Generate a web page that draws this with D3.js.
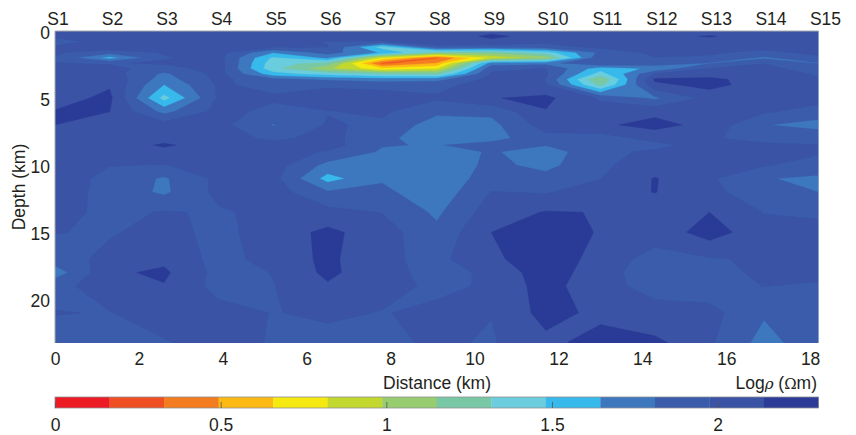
<!DOCTYPE html>
<html><head><meta charset="utf-8">
<script src="https://cdn.jsdelivr.net/npm/d3@7"></script>
<style>
html,body{margin:0;padding:0;background:#fff}
svg{display:block}
text{font-family:"Liberation Sans",Arial,sans-serif;fill:#231f20}
</style></head><body>
<svg id="c" width="856" height="435"></svg>
<script>
const stationLabels = ["S1","S2","S3","S4","S5","S6","S7","S8","S9","S10","S11","S12","S13","S14","S15"];
const stationSpacingKm = 1.3;
const depthsKm = [0,.4,.8,1.2,1.6,2,2.4,2.8,3.2,3.6,4,5,6,7,8,8.5,9,10,11,12,13.5,15,17,18,19,21,23.2];
const xTicks = [0,2,4,6,8,10,12,14,16,18];
const depthTicks = [0,5,10,15,20];
const barTicks = [0,0.5,1,1.5,2];
const levelStep = 0.1646;
const levelColors = ["#ed1c24","#f04e23","#f47c20","#fdb913","#f5e911","#c3d82f","#97cd6e","#79c8a5","#6bcddd","#37b9ec","#3d78be","#3a5cab","#3a53a4","#2c3b97"];
// log10 resistivity: one row per depth, one value per station
const logRho = [
[2.03,2.05,2.05,2.05,2.05,2.05,2.05,2.05,2.1,2.05,2.05,2.05,2.03,2.03,2.03],
[2.02,2.06,2.05,2.05,2.07,2.13,2.1,2.04,2.17,2.08,2.1,2.06,2.16,2.02,2.0],
[1.83,2.12,2.04,2.05,2.0,1.97,1.95,2.13,2.1,2.02,2.03,2.0,2.02,1.99,2.03],
[2.02,2.1,2.03,2.05,1.99,1.98,1.4,1.9,1.85,1.9,2.02,2.04,2.0,2.03,2.03],
[2.0,1.88,1.99,2.04,1.66,1.88,1.62,1.25,1.2,1.4,1.85,2.02,2.0,1.93,2.02],
[1.96,1.58,1.96,2.03,1.45,1.68,.8,.31,.85,1.05,1.95,1.97,1.95,1.78,1.95],
[1.98,1.96,2.0,2.06,1.38,1.25,.28,.5,1.72,1.75,1.97,1.9,1.8,1.97,1.8],
[2.03,2.02,1.9,2.05,1.36,1.02,.7,.8,1.93,1.98,1.55,1.68,1.98,2.02,1.9],
[2.05,2.05,1.78,2.03,1.55,1.4,1.3,1.25,2.0,2.0,1.4,1.98,2.08,2.1,1.95],
[2.07,2.1,1.73,2.02,1.85,1.78,1.72,1.75,2.03,1.97,1.12,2.17,2.17,2.08,2.0],
[2.1,2.12,1.645,2.0,1.92,1.95,1.93,1.92,2.05,2.0,1.25,2.1,2.2,2.05,2.02],
[2.07,2.18,1.42,2.0,2.0,2.05,2.04,2.0,2.13,2.18,1.95,1.78,2.03,2.05,2.05],
[2.15,2.142,1.76,2.03,1.93,1.97,2.0,1.85,1.85,2.13,2.06,2.09,2.05,2.0,1.9],
[2.14,2.03,2.05,2.03,1.8,1.99,1.95,1.72,1.76,2.05,2.11,2.2,2.08,1.82,1.75],
[2.06,2.05,2.08,2.05,1.94,2.03,1.85,1.72,1.75,1.92,1.9,2.03,1.99,1.93,1.93],
[2.05,2.06,2.16,2.07,2.05,2.05,1.82,1.8,1.88,1.82,1.94,1.93,2.04,2.0,1.98],
[2.05,2.05,2.1,2.05,2.05,1.96,1.79,1.72,1.83,1.72,1.94,2.0,2.05,2.05,2.0],
[2.05,1.98,1.97,2.03,2.05,1.76,1.77,1.68,1.855,1.76,1.95,2.05,2.05,1.99,1.9],
[2.06,1.93,1.79,2.02,2.03,1.58,1.79,1.7,1.885,1.87,1.97,2.15,2.0,1.82,1.78],
[2.06,1.92,1.78,2.02,2.05,1.83,1.85,1.7,1.98,1.96,2.07,2.145,2.02,1.88,1.81],
[2.05,1.92,1.99,1.955,2.02,2.03,1.97,1.78,2.06,2.15,2.135,2.05,2.14,1.97,1.94],
[1.98,1.96,2.03,1.93,2.05,2.18,2.05,1.85,2.14,2.35,2.11,2.03,2.22,2.03,2.04],
[1.9,2.02,2.1,1.92,2.03,2.18,2.0,1.94,2.08,2.31,2.04,1.93,1.96,2.0,2.03],
[1.72,2.11,2.17,1.92,1.98,2.18,2.02,1.93,2.0,2.25,2.03,1.9,1.88,2.03,2.03],
[1.93,2.05,2.13,1.92,1.97,2.12,2.02,1.95,1.99,2.22,2.0,1.95,1.88,1.98,1.95],
[1.98,1.97,2.07,2.03,1.97,2.0,1.97,2.0,1.98,2.2,2.1,2.0,2.03,1.83,1.97],
[1.93,1.93,1.96,2.05,1.96,1.93,1.94,2.0,1.96,2.1,2.2,2.18,2.0,1.75,1.92]
];

const svg = d3.select("#c");
const fs = 17.5;
const sans = '"Liberation Sans",Arial,sans-serif';
const L = 55, R = 818.5, T = 31, B = 343;
const x = d3.scaleLinear().domain([0, stationSpacingKm*(stationLabels.length-1)]).range([L,R]);
const y = d3.scaleLinear().domain([0,23.25]).range([T,B]);

const nx = stationLabels.length, ny = depthsKm.length;
const rowToDepth = d3.scaleLinear().domain(d3.range(ny)).range(depthsKm);
const project = d3.geoTransform({point(px,py){
  this.stream.point(x((px-0.5)*stationSpacingKm), y(rowToDepth(py-0.5)));
}});
const path = d3.geoPath(project);
const thresholds = levelColors.map((_,i)=>i*levelStep);
const contours = d3.contours().size([nx,ny]).thresholds(thresholds).smooth(true)(logRho.flat());

const blur = svg.append("filter").attr("id","soft").attr("x",0).attr("y",0).attr("width",1).attr("height",1);
blur.append("feGaussianBlur").attr("stdDeviation",0.5);
svg.append("clipPath").attr("id","plot").append("rect")
  .attr("x",L).attr("y",T).attr("width",R-L).attr("height",B-T);
svg.append("g").attr("clip-path","url(#plot)").append("g").attr("filter","url(#soft)")
  .selectAll("path").data(contours).join("path")
  .attr("d",path)
  .attr("fill",(d,i)=>levelColors[i])
  .attr("stroke",(d,i)=>levelColors[i])
  .attr("stroke-width",0.3);

// plot frame
svg.append("path").attr("d",`M${L},${B}V${T}H${R}`).attr("fill","none").attr("stroke","#a7a9ac").attr("stroke-width",1);
svg.append("path").attr("d",`M${R},${T}V${B}`).attr("fill","none").attr("stroke","#8ea0d0").attr("stroke-width",1);

// x axis
const ax = svg.append("g").attr("transform",`translate(0,${B})`)
  .call(d3.axisBottom(x).tickValues(xTicks).tickSize(0).tickPadding(10).tickFormat(String));
ax.select(".domain").remove();
ax.selectAll("text").attr("font-size",fs).style("font-family",sans).attr("fill","#231f20");

// depth axis
const ay = svg.append("g").attr("transform",`translate(${L},1.5)`)
  .call(d3.axisLeft(y).tickValues(depthTicks).tickSize(0).tickPadding(5).tickFormat(String));
ay.select(".domain").remove();
ay.selectAll("text").attr("font-size",fs).style("font-family",sans).attr("fill","#231f20");

// stations
svg.append("g").selectAll("text").data(stationLabels).join("text")
  .attr("x",(d,i)=>x(i*stationSpacingKm)+ (i>=9?7:3))
  .attr("y",24.5).attr("text-anchor","middle").attr("font-size",fs).text(d=>d);

svg.append("text").attr("x",437).attr("y",389).attr("text-anchor","middle").attr("font-size",fs).text("Distance (km)");
svg.append("text").attr("transform","translate(25,187) rotate(-90)").attr("text-anchor","middle").attr("font-size",fs).text("Depth (km)");
const lg = svg.append("text").attr("x",817).attr("y",389).attr("text-anchor","end").attr("font-size",fs);
lg.append("tspan").text("Log");
lg.append("tspan").attr("font-style","italic").style("font-family",'"DejaVu Serif",serif').attr("font-size",15).text("ρ");
lg.append("tspan").text(" (");
lg.append("tspan").style("font-family",'"DejaVu Serif",serif').attr("font-size",15).text("Ω");
lg.append("tspan").text("m)");

// colour bar
const barTop = 397, barBottom = 408;
const cx = d3.scaleLinear().domain([0,levelStep*levelColors.length]).range([L,R]);
svg.append("g").selectAll("rect").data(levelColors).join("rect")
  .attr("x",(d,i)=>cx(i*levelStep)).attr("y",barTop)
  .attr("width",(d,i)=>cx((i+1)*levelStep)-cx(i*levelStep)+0.3)
  .attr("height",barBottom-barTop).attr("fill",d=>d);
svg.append("rect").attr("x",L).attr("y",barTop).attr("width",R-L).attr("height",barBottom-barTop)
  .attr("fill","none").attr("stroke","#8f9094").attr("stroke-width",0.8);
const ac = svg.append("g").attr("transform",`translate(0,${barBottom})`)
  .call(d3.axisBottom(cx).tickValues(barTicks).tickSize(-6).tickPadding(11).tickFormat(String));
ac.select(".domain").remove();
ac.selectAll("line").attr("stroke","#555").attr("stroke-width",0.8);
ac.selectAll("text").attr("font-size",fs).style("font-family",sans).attr("fill","#231f20");
</script>
</body></html>
